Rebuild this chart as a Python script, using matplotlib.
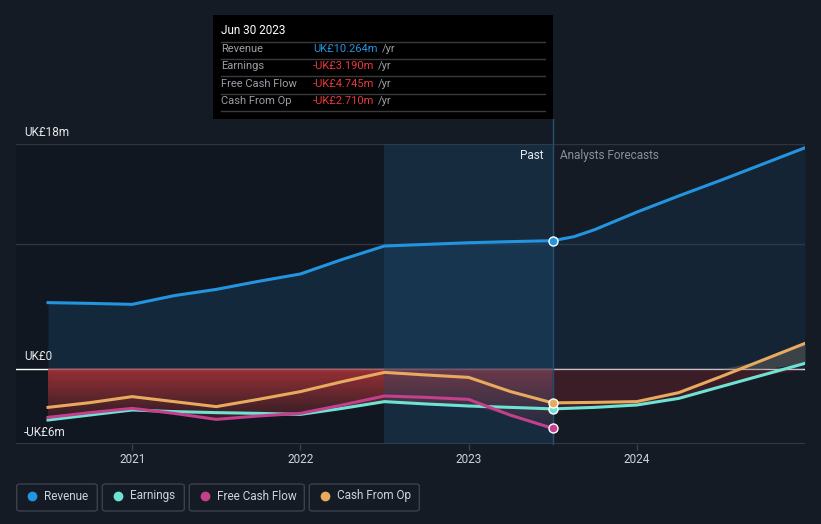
import numpy as np
import matplotlib.pyplot as plt
from matplotlib.patches import Polygon, FancyBboxPatch, Rectangle
from matplotlib.lines import Line2D

plt.rcParams['font.family'] = ['Roboto', 'DejaVu Sans']

# ===================== data (UK£ m) =====================
hist_x = [2020.5, 2020.75, 2021.0, 2021.25, 2021.5, 2021.75, 2022.0,
          2022.25, 2022.5, 2022.75, 2023.0, 2023.25, 2023.5]
hist_revenue = [5.31, 5.25, 5.17, 5.87, 6.37, 7.01, 7.60, 8.77, 9.84, 9.97, 10.10, 10.19, 10.264]
hist_earnings = [-4.08, -3.68, -3.28, -3.41, -3.49, -3.55, -3.63, -3.15, -2.61, -2.80, -2.96, -3.07, -3.19]
hist_fcf = [-3.87, -3.49, -3.15, -3.55, -4.03, -3.76, -3.55, -2.88, -2.16, -2.27, -2.43, -3.70, -4.745]
hist_cfo = [-3.07, -2.69, -2.21, -2.61, -3.01, -2.43, -1.81, -1.01, -0.27, -0.48, -0.67, -1.81, -2.71]

fc_rev_x = [2023.5, 2023.625, 2023.75, 2023.875, 2024.0, 2024.25, 2024.5, 2024.75, 2025.0]
fc_revenue = [10.264, 10.58, 11.15, 11.85, 12.55, 13.85, 15.10, 16.40, 17.70]

fc_x = [2023.5, 2023.75, 2024.0, 2024.25, 2024.5, 2024.75, 2025.0]
fc_earnings = [-3.19, -3.07, -2.88, -2.35, -1.41, -0.48, 0.45]
fc_cfo = [-2.71, -2.67, -2.61, -1.89, -0.61, 0.72, 2.05]

year_ticks = [2021, 2022, 2023, 2024]
tip_rows = ['Revenue', 'Earnings', 'Free Cash Flow', 'Cash From Op']
tip_values = ['UK£10.264m', '-UK£3.190m', '-UK£4.745m', '-UK£2.710m']
legend_names = ['Revenue', 'Earnings', 'Free Cash Flow', 'Cash From Op']

# ===================== styles =====================
BG = '#151b25'
C_REV = '#2394df'
C_EARN = '#6ee3d3'
C_FCF = '#c4408c'
C_CFO = '#e8aa5e'
GRID = '#2e3540'

W, H = 821, 524
fig = plt.figure(figsize=(W / 100, H / 100), dpi=100, facecolor=BG)


def fx(px):
    return px / W


def fy(py):
    return 1 - py / H


ax = fig.add_axes([fx(16), fy(444), 789 / W, 300 / H])
ax.set_facecolor(BG)
for s in ax.spines.values():
    s.set_visible(False)

# background regions
ax.axvspan(2020.3095, 2022.5, color='#0c1017', alpha=0.35, lw=0, zorder=0)
ax.axvspan(2022.5, 2023.5, color='#1d4a70', alpha=0.35, lw=0, zorder=2.5)

# grid
ax.axhline(18, color=GRID, lw=1, zorder=1)
ax.axhline(10, color=GRID, lw=1, zorder=1)
ax.axhline(-6, color='#3a414d', lw=1.2, zorder=1)
ax.axhline(0, color='#ffffff', lw=1, zorder=1.5)

# revenue fill
ax.fill_between(hist_x, 0, hist_revenue, color='#1a4a72', alpha=0.35, lw=0, zorder=1)
ax.fill_between(fc_rev_x, 0, fc_revenue, color='#1a4a72', alpha=0.2, lw=0, zorder=1)

# red gradient area (past)
low = np.minimum(np.minimum(hist_earnings, hist_fcf), hist_cfo)
verts = list(zip(hist_x, [0] * len(hist_x))) + list(zip(hist_x[::-1], low[::-1]))
poly = Polygon(verts, closed=True, facecolor='none', edgecolor='none')
ax.add_patch(poly)
grad = np.zeros((100, 1, 4))
grad[:, 0, 0] = 0.70
grad[:, 0, 1] = 0.21
grad[:, 0, 2] = 0.23
grad[:, 0, 3] = np.linspace(0.85, 0.05, 100)
im = ax.imshow(grad, extent=[2020.5, 2023.5, -5, 0], aspect='auto',
               origin='upper', zorder=1.6, interpolation='bilinear')
im.set_clip_path(poly)

# forecast red / grey area
fe = np.array(fc_earnings)
fo = np.array(fc_cfo)
ax.fill_between(fc_x, 0, np.minimum(np.minimum(fe, fo), 0), color='#55202a',
                alpha=0.6, lw=0, zorder=1.6)
ax.fill_between(fc_x, np.maximum(fe, 0), np.maximum(fo, 0), color='#6a6a62',
                alpha=0.45, lw=0, zorder=1.6)

ax.set_xlim(2020.3095, 2025.0)
ax.set_ylim(-6, 18)

# lines
lw = 2.2
ax.plot(hist_x + fc_rev_x[1:], hist_revenue + fc_revenue[1:], color=C_REV, lw=lw, zorder=4)
ax.plot(hist_x + fc_x[1:], hist_earnings + fc_earnings[1:], color=C_EARN, lw=lw, zorder=4)
ax.plot(hist_x, hist_fcf, color=C_FCF, lw=lw, zorder=4.1)
ax.plot(hist_x + fc_x[1:], hist_cfo + fc_cfo[1:], color=C_CFO, lw=lw, zorder=4.2)

# divider line
ax.plot([2023.5, 2023.5], [-6, 20], color='#25506f', lw=1, zorder=3, clip_on=False)

# markers at Jun 30 2023
for v, c in [(hist_revenue[-1], C_REV), (hist_earnings[-1], C_EARN),
             (hist_fcf[-1], C_FCF), (hist_cfo[-1], C_CFO)]:
    ax.plot([2023.5], [v], 'o', ms=6.5, mfc=c, mec='white', mew=1, zorder=6)

# x ticks
ax.set_xticks(year_ticks)
ax.set_xticklabels([str(y) for y in year_ticks])
ax.tick_params(axis='x', colors='#3a414d', labelcolor='#d0d4da', labelsize=8.5,
               length=4, width=1, pad=2.5)
ax.set_yticks([])

# y labels
for txt, py in [('UK£18m', 132), ('UK£0', 357), ('-UK£6m', 432)]:
    fig.text(fx(24), fy(py), txt, color='#e6e8eb', fontsize=8.5, va='center', ha='left')

# Past / forecast
fig.text(fx(543), fy(156), 'Past', color='#e6e8eb', fontsize=8.5, ha='right', va='center')
fig.text(fx(560), fy(156), 'Analysts Forecasts', color='#8a9099', fontsize=8.5,
         ha='left', va='center')

# tooltip
fig.patches.append(Rectangle((fx(213), fy(119)), 340 / W, 104 / H, transform=fig.transFigure,
                             facecolor='#000000', edgecolor='none', zorder=10))
fig.text(fx(221), fy(30), 'Jun 30 2023', color='white', fontsize=8.5, va='center',
         ha='left', zorder=11)
for py in [41.5, 58.5, 76, 93.5, 111]:
    fig.add_artist(Line2D([fx(221), fx(545)], [fy(py), fy(py)], color='#3a3a3a', lw=1,
                          zorder=11))
row_y = [49.3, 66, 84, 101]
for i, (name, val) in enumerate(zip(tip_rows, tip_values)):
    fig.text(fx(221), fy(row_y[i]), name, color='#9a9ea5', fontsize=8, va='center',
             ha='left', zorder=11)
    vc = C_REV if i == 0 else '#e8383d'
    t = fig.text(fx(313), fy(row_y[i]), val, color=vc, fontsize=8, va='center',
                 ha='left', zorder=11)
    fig.canvas.draw()
    bb = t.get_window_extent()
    fig.text(bb.x1 / W + fx(4), fy(row_y[i]), '/yr', color='#9a9ea5', fontsize=8,
             va='center', ha='left', zorder=11)

# legend
boxes = [(16.7, 97.3), (102.3, 184.3), (189.3, 304.3), (309.3, 419.3)]
dots = [32.3, 117.7, 205, 325]
texts = [44.3, 130, 217.3, 337.3]
colors = [C_REV, C_EARN, C_FCF, C_CFO]
for (x0, x1), dx, tx, c, name in zip(boxes, dots, texts, colors, legend_names):
    fig.patches.append(FancyBboxPatch((fx(x0), fy(511)), (x1 - x0) / W, 27 / H,
                                      boxstyle='round,pad=0,rounding_size=0.004',
                                      transform=fig.transFigure, facecolor='none',
                                      edgecolor='#3a414d', lw=1))
    fig.add_artist(Line2D([fx(dx)], [fy(496)], marker='o', ms=6, color=c, mec=c))
    fig.text(fx(tx), fy(496), name, color='#cfd3d9', fontsize=8.5, va='center', ha='left')

fig.savefig('out.png', dpi=100, facecolor=BG)
